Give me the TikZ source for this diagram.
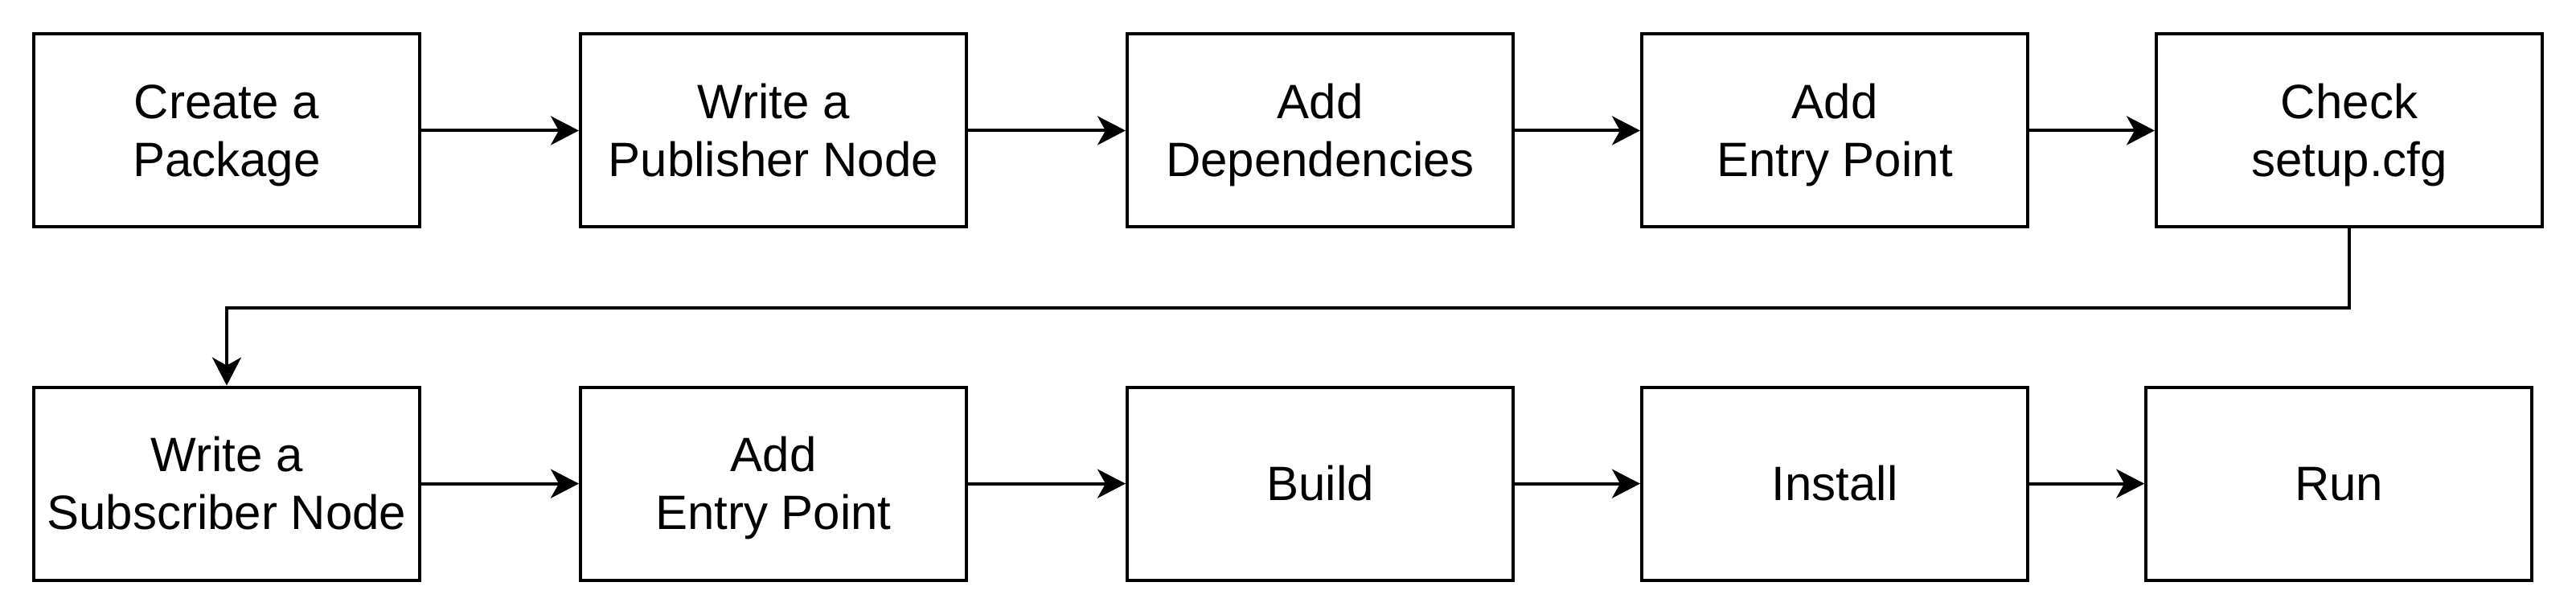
\documentclass[tikz,border=0pt]{standalone}
\usepackage{fontspec}
\setmainfont{Liberation Sans}
\usepackage{tikz}
\usetikzlibrary{arrows.meta, positioning}
\newcommand{\ls}{\rule[-3.8pt]{0pt}{18pt}}

\begin{document}
\begin{tikzpicture}[x=1pt, y=-1pt, line width=1pt,
    stepbox/.style={draw, rectangle, minimum width=120pt, minimum height=60pt,
        inner sep=0pt, align=center, font=\fontsize{15pt}{18pt}\selectfont},
    flow/.style={-{Stealth[length=8.75pt, width=9pt, inset=2.5pt]}}]
    \useasboundingbox (0,0) rectangle (801,191);

    % 第一行
    \node[stepbox] (create) at (70.5,40.6) {\ls Create a\\Package\ls};
    \node[stepbox] (pub)    at (240.5,40.6) {\ls Write a\\Publisher Node\ls};
    \node[stepbox] (deps)   at (410.5,40.6) {\ls Add\\Dependencies\ls};
    \node[stepbox] (entryA) at (570.5,40.6) {\ls Add\\Entry Point\ls};
    \node[stepbox] (check)  at (730.5,40.6) {\ls Check\\setup.cfg\ls};

    % 第二行
    \node[stepbox] (sub)    at (70.5,150.4) {\ls Write a\\Subscriber Node\ls};
    \node[stepbox] (entryB) at (240.5,150.4) {\ls Add\\Entry Point\ls};
    \node[stepbox] (build)  at (410.5,150.4) {\ls Build};
    \node[stepbox] (inst)   at (570.5,150.4) {\ls Install};
    \node[stepbox] (run)    at (727.3,150.4) {\ls Run};

    % 箭头
    \draw[flow] (create) -- (pub);
    \draw[flow] (pub) -- (deps);
    \draw[flow] (deps) -- (entryA);
    \draw[flow] (entryA) -- (check);
    \draw[flow] (check.south) -- ++(0,24.6) -| (sub.north);
    \draw[flow] (sub) -- (entryB);
    \draw[flow] (entryB) -- (build);
    \draw[flow] (build) -- (inst);
    \draw[flow] (inst) -- (run);
\end{tikzpicture}
\end{document}
